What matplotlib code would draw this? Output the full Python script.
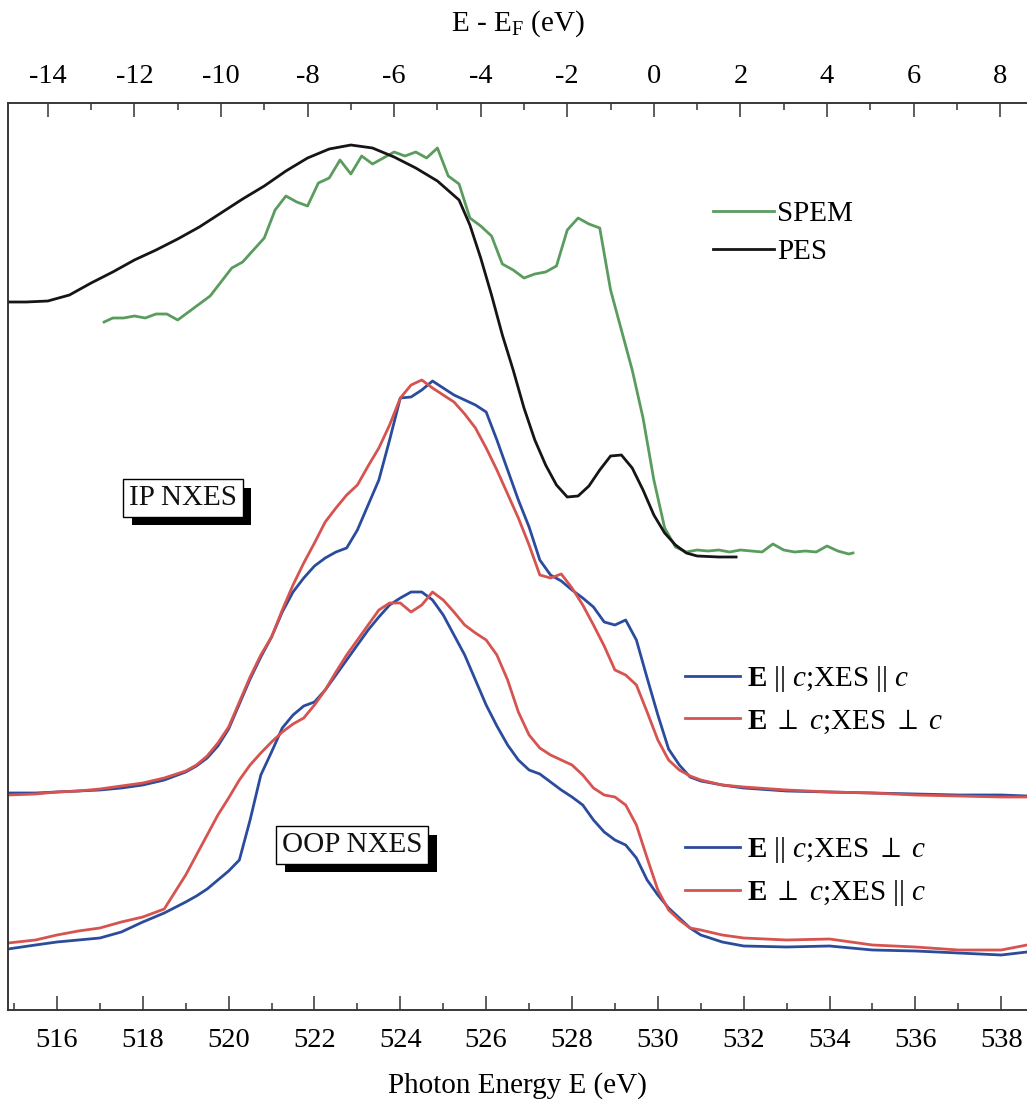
import matplotlib
matplotlib.use('Agg')
import matplotlib.pyplot as plt
from matplotlib.ticker import MultipleLocator
import matplotlib.patheffects as pe

plt.rcParams['font.family'] = ['Liberation Serif', 'DejaVu Serif']
plt.rcParams['mathtext.fontset'] = 'custom'
plt.rcParams['mathtext.rm'] = 'Liberation Serif'
plt.rcParams['mathtext.it'] = 'Liberation Serif:italic'
plt.rcParams['mathtext.bf'] = 'Liberation Serif:bold'
plt.rcParams['axes.unicode_minus'] = False

# ---------------- data ----------------
# Photon energy grid (eV) for NXES spectra
photon_energy = [514.86, 515.5, 516, 516.5, 517, 517.5, 518, 518.5, 519, 519.25, 519.5, 519.75,
                 520, 520.25, 520.5, 520.75, 521, 521.25, 521.5, 521.75, 522, 522.25, 522.5, 522.75,
                 523, 523.25, 523.5, 523.75, 524, 524.25, 524.5, 524.75, 525, 525.25, 525.5, 525.75,
                 526, 526.25, 526.5, 526.75, 527, 527.25, 527.5, 527.75, 528, 528.25, 528.5, 528.75,
                 529, 529.25, 529.5, 529.75, 530, 530.25, 530.5, 530.75, 531, 531.5, 532, 533, 534,
                 535, 536, 537, 538, 538.6]

ip_par = [217, 217, 218, 219, 220, 222, 225, 230, 238, 244, 252, 264,
          281, 306, 331, 353, 373, 398, 418, 432, 444, 452, 458, 462,
          480, 505, 530, 570, 612, 613, 620, 629, 622, 615, 610, 605,
          598, 570, 540, 510, 483, 450, 435, 429, 420, 412, 403, 388,
          385, 390, 370, 332, 295, 261, 245, 233, 229, 225, 222, 219, 218,
          217, 216, 215, 215, 214]
ip_perp = [215, 216, 218, 219, 221, 224, 227, 232, 239, 245, 254, 267,
           283, 308, 333, 355, 373, 400, 425, 447, 467, 488, 502, 515,
           525, 544, 562, 585, 612, 625, 630, 622, 615, 608, 596, 582,
           562, 540, 516, 492, 465, 435, 432, 436, 422, 405, 385, 364,
           340, 335, 325, 298, 270, 250, 240, 234, 230, 225, 223, 220, 218,
           217, 215, 214, 213, 213]
oop_par = [61, 65, 68, 70, 72, 78, 88, 97, 108, 114, 121, 130,
           139, 150, 190, 235, 258, 282, 295, 304, 308, 320, 335, 350,
           365, 380, 393, 405, 412, 418, 418, 410, 395, 375, 355, 330,
           305, 284, 265, 250, 240, 236, 228, 220, 213, 205, 190, 178,
           170, 165, 152, 130, 115, 102, 92, 82, 75, 68, 64, 63, 64,
           60, 59, 57, 55, 58]
oop_perp = [67, 70, 75, 79, 82, 88, 93, 101, 135, 155, 175, 195,
            212, 230, 245, 257, 268, 278, 286, 292, 305, 320, 338, 355,
            370, 385, 400, 407, 407, 398, 405, 418, 410, 398, 385, 377,
            370, 355, 330, 298, 275, 262, 255, 250, 245, 235, 222, 215,
            213, 205, 185, 152, 120, 100, 90, 82, 80, 75, 72, 70, 71,
            65, 63, 60, 60, 65]

# E - E_F grid (eV) for PES
pes_energy = [-14.92, -14.5, -14, -13.5, -13, -12.5, -12, -11.5, -11, -10.5, -10, -9.5, -9,
              -8.5, -8, -7.5, -7, -6.5, -6, -5.5, -5, -4.5, -4.25, -4, -3.75, -3.5, -3.25,
              -3, -2.75, -2.5, -2.25, -2, -1.75, -1.5, -1.25, -1, -0.75, -0.5, -0.25, 0,
              0.25, 0.5, 0.75, 1, 1.5, 1.9]
pes = [708, 708, 709, 715, 727, 738, 750, 760, 771, 783, 797, 811, 824,
       839, 852, 861, 865, 862, 853, 842, 829, 810, 785, 752, 715, 675, 640,
       602, 570, 545, 525, 513, 514, 524, 540, 554, 555, 542, 520, 495,
       477, 465, 457, 454, 453, 453]

# E - E_F grid (eV) for SPEM
spem_energy = [-12.7, -12.5, -12.25, -12, -11.75, -11.5, -11.25, -11, -10.75, -10.5, -10.25,
               -10, -9.75, -9.5, -9.25, -9, -8.75, -8.5, -8.25, -8, -7.75, -7.5, -7.25,
               -7, -6.75, -6.5, -6.25, -6, -5.75, -5.5, -5.25, -5, -4.75, -4.5, -4.25,
               -4, -3.75, -3.5, -3.25, -3, -2.75, -2.5, -2.25, -2, -1.75, -1.5, -1.25,
               -1, -0.75, -0.5, -0.25, 0, 0.25, 0.5, 0.75, 1, 1.25, 1.5, 1.75,
               2, 2.25, 2.5, 2.75, 3, 3.25, 3.5, 3.75, 4, 4.25, 4.5, 4.6]
spem = [688, 692, 692, 694, 692, 696, 696, 690, 698, 706, 714,
        728, 742, 748, 760, 772, 800, 814, 808, 804, 827, 832, 850,
        836, 854, 846, 852, 858, 854, 858, 852, 862, 834, 826, 792,
        784, 774, 746, 740, 732, 736, 738, 744, 780, 792, 786, 782,
        720, 680, 640, 592, 530, 482, 463, 458, 460, 459, 460, 458,
        460, 459, 458, 466, 460, 458, 459, 458, 464, 459, 456, 457]

bottom_ticks = [516, 518, 520, 522, 524, 526, 528, 530, 532, 534, 536, 538]
top_ticks = [-14, -12, -10, -8, -6, -4, -2, 0, 2, 4, 6, 8]

GREEN = '#5a9c5e'
BLACK = '#151515'
BLUE = '#2b4c9c'
RED = '#d65350'

# ---------------- figure ----------------
fig = plt.figure(figsize=(10.27, 11.08), dpi=100)
ax = fig.add_axes([8 / 1027, 98 / 1108, 1019 / 1027, 907 / 1108])
ax.set_xlim(514.86, 538.6)
ax.set_ylim(0, 907)
ax2 = ax.twiny()
ax2.set_xlim(-14.92, 8.62)

lw = 2.0
l_ip_par, = ax.plot(photon_energy, ip_par, color=BLUE, lw=lw)
l_ip_perp, = ax.plot(photon_energy, ip_perp, color=RED, lw=lw)
l_oop_par, = ax.plot(photon_energy, oop_par, color=BLUE, lw=lw)
l_oop_perp, = ax.plot(photon_energy, oop_perp, color=RED, lw=lw)
l_spem, = ax2.plot(spem_energy, spem, color=GREEN, lw=lw)
l_pes, = ax2.plot(pes_energy, pes, color=BLACK, lw=lw)

for a in (ax, ax2):
    for s in a.spines.values():
        s.set_linewidth(1.1)
        s.set_color('#333333')
    a.spines['right'].set_visible(False)
ax.set_yticks([])
ax2.set_yticks([])

ax.set_xticks(bottom_ticks)
ax.xaxis.set_minor_locator(MultipleLocator(1))
ax.tick_params(axis='x', which='both', direction='in', labelsize=20.5, pad=13,
               width=1.1, color='#333333')
ax.tick_params(axis='x', which='major', length=10)
ax.tick_params(axis='x', which='minor', length=5)

ax2.set_xticks(top_ticks)
ax2.xaxis.set_minor_locator(MultipleLocator(1))
ax2.tick_params(axis='x', which='both', direction='in', labelsize=20.5, pad=10,
                width=1.1, color='#333333')
ax2.tick_params(axis='x', which='major', length=10)
ax2.tick_params(axis='x', which='minor', length=5)

ax.set_xlabel('Photon Energy E (eV)', fontsize=21, labelpad=14)
ax2.set_xlabel(r'E - E$_{\mathrm{F}}$ (eV)', fontsize=21, labelpad=24)

PAR = '||'
PERP = r'$\perp$'


def lab(a, b):
    return r'$\mathbf{E}$ ' + a + r' $c$;XES ' + b + r' $c$'


# legends
leg1 = ax2.legend([l_spem, l_pes], ['SPEM', 'PES'], loc='upper left',
                  bbox_to_anchor=(0.692, 0.892), frameon=False, fontsize=21,
                  handlelength=2.1, handletextpad=0.1, labelspacing=0.38,
                  borderpad=0, borderaxespad=0)

leg2 = ax.legend([l_ip_par, l_ip_perp], [lab(PAR, PAR), lab(PERP, PERP)],
                 loc='upper left', bbox_to_anchor=(0.664, 0.381), frameon=False, fontsize=21,
                 handlelength=1.9, handletextpad=0.25, labelspacing=0.45,
                 borderpad=0, borderaxespad=0)
ax.add_artist(leg2)
leg3 = ax.legend([l_oop_par, l_oop_perp], [lab(PAR, PERP), lab(PERP, PAR)],
                 loc='upper left', bbox_to_anchor=(0.664, 0.193), frameon=False, fontsize=21,
                 handlelength=1.9, handletextpad=0.25, labelspacing=0.45,
                 borderpad=0, borderaxespad=0)


def boxed(x, y, s):
    t = ax.text(x, y, s, ha='center', va='center', fontsize=21, color='#111111',
                bbox=dict(boxstyle='square,pad=0.2', fc='white', ec='black', lw=1))
    t.get_bbox_patch().set_path_effects([
        pe.SimplePatchShadow(offset=(6, -6), shadow_rgbFace='black', alpha=1.0),
        pe.Normal()])


boxed(518.94, 512, 'IP NXES')
boxed(522.88, 165, 'OOP NXES')

fig.savefig('out.png', dpi=100)
